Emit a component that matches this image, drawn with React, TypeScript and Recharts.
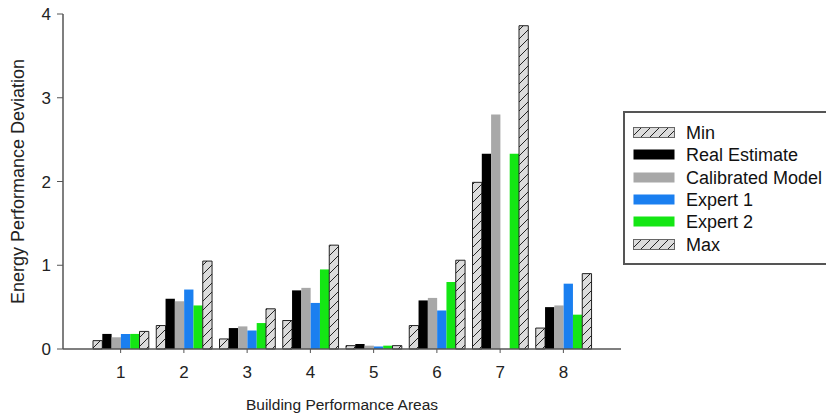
import React from 'react';
import { BarChart, Bar, XAxis, YAxis } from 'recharts';

const categories = ['1', '2', '3', '4', '5', '6', '7', '8'];
const minVals = [0.1, 0.28, 0.12, 0.34, 0.04, 0.28, 1.99, 0.25];
const realVals = [0.18, 0.6, 0.25, 0.7, 0.06, 0.58, 2.33, 0.5];
const calibVals = [0.14, 0.57, 0.27, 0.73, 0.04, 0.61, 2.8, 0.52];
const expert1Vals = [0.18, 0.71, 0.22, 0.55, 0.03, 0.46, null, 0.78];
const expert2Vals = [0.18, 0.52, 0.31, 0.95, 0.04, 0.8, 2.33, 0.41];
const maxVals = [0.21, 1.05, 0.48, 1.24, 0.04, 1.06, 3.86, 0.9];
const yTicks = [0, 1, 2, 3, 4];

const data = categories.map((c, i) => ({
  area: c,
  min: minVals[i],
  real: realVals[i],
  calib: calibVals[i],
  expert1: expert1Vals[i],
  expert2: expert2Vals[i],
  max: maxVals[i],
}));

const FONT = '"Liberation Sans", Arial, sans-serif';
const AXIS = '#555';
const HATCH_BG = '#dcdcdc';

const series = [
  { key: 'min', name: 'Min', color: 'url(#hatch)', hatched: true },
  { key: 'real', name: 'Real Estimate', color: '#000000', hatched: false },
  { key: 'calib', name: 'Calibrated Model', color: '#a8a8a8', hatched: false },
  { key: 'expert1', name: 'Expert 1', color: '#1a7ff0', hatched: false },
  { key: 'expert2', name: 'Expert 2', color: '#14e614', hatched: false },
  { key: 'max', name: 'Max', color: 'url(#hatch)', hatched: true },
];

const HatchDefs = ({ id }: { id: string }) => (
  <defs>
    <pattern id={id} patternUnits="userSpaceOnUse" width={9} height={9}>
      <rect width={9} height={9} fill={HATCH_BG} />
      <line x1={0} y1={9} x2={9} y2={0} stroke="#222" strokeWidth={1} />
    </pattern>
  </defs>
);

const XTick = (props: any) => {
  const { x, y, payload } = props;
  return (
    <text x={x} y={y} dy={15} textAnchor="middle" fill="#222" fontSize={17} fontFamily={FONT}>
      {payload.value}
    </text>
  );
};

// legend box runs off the right edge of the picture, so no right border
const LegendBox = () => (
  <div
    style={{
      position: 'absolute',
      left: 623,
      top: 111,
      width: 201,
      height: 150,
      borderTop: `2px solid ${AXIS}`,
      borderLeft: `2px solid ${AXIS}`,
      borderBottom: `2px solid ${AXIS}`,
      background: '#fff',
      fontFamily: FONT,
      fontSize: 18,
      color: '#111',
    }}
  >
    {series.map((s, i) => (
      <div
        key={s.key}
        style={{ position: 'absolute', left: 8, top: 9 + i * 22.3, height: 22, display: 'flex', alignItems: 'center' }}
      >
        <svg width={42} height={12} style={{ display: 'block' }}>
          <HatchDefs id={`lg-hatch-${i}`} />
          <rect
            x={0.5}
            y={0.5}
            width={41}
            height={10}
            fill={s.hatched ? `url(#lg-hatch-${i})` : s.color}
            stroke={s.hatched ? '#666' : 'none'}
          />
        </svg>
        <span style={{ marginLeft: 11, whiteSpace: 'nowrap', lineHeight: '22px' }}>{s.name}</span>
      </div>
    ))}
  </div>
);

export default function App() {
  return (
    <div style={{ position: 'absolute', left: 0, top: 0, width: 826, height: 416, background: '#fff', overflow: 'hidden' }}>
      <BarChart
        width={826}
        height={416}
        data={data}
        margin={{ top: 14, right: 205, bottom: 0, left: 0 }}
        barGap={0}
        barSize={9.3}
      >
        <HatchDefs id="hatch" />
        <XAxis
          dataKey="area"
          height={67}
          padding={{ left: 26, right: 26 }}
          stroke={AXIS}
          axisLine={{ stroke: AXIS, strokeWidth: 1.5 }}
          tickLine={{ stroke: AXIS }}
          tickSize={4}
          tickMargin={10}
          tick={<XTick />}
          label={{ value: 'Building Performance Areas', position: 'insideBottom', offset: 6, fill: '#222', fontSize: 15.5, fontFamily: FONT }}
        />
        <XAxis
          xAxisId="top"
          orientation="top"
          dataKey="area"
          height={0}
          tick={false}
          tickLine={false}
          axisLine={{ stroke: AXIS, strokeWidth: 1.5 }}
        />
        <YAxis
          width={63}
          domain={[0, 4]}
          ticks={yTicks}
          interval={0}
          axisLine={{ stroke: AXIS, strokeWidth: 1.5 }}
          tickLine={{ stroke: AXIS }}
          tickSize={6}
          tickMargin={6}
          tick={{ fill: '#222', fontSize: 17, fontFamily: FONT }}
          label={{
            value: 'Energy Performance Deviation',
            angle: -90,
            position: 'insideLeft',
            offset: 18,
            style: { textAnchor: 'middle' },
            fill: '#222',
            fontSize: 18,
            fontFamily: FONT,
          }}
        />
        <YAxis
          yAxisId="right"
          orientation="right"
          width={0}
          domain={[0, 4]}
          tick={false}
          tickLine={false}
          axisLine={{ stroke: AXIS, strokeWidth: 1.5 }}
        />
        {series.map((s) => (
          <Bar
            key={s.key}
            dataKey={s.key}
            name={s.name}
            fill={s.color}
            stroke={s.hatched ? '#222' : 'none'}
            strokeWidth={s.hatched ? 1 : 0}
            isAnimationActive={false}
          />
        ))}
      </BarChart>
      <LegendBox />
    </div>
  );
}
